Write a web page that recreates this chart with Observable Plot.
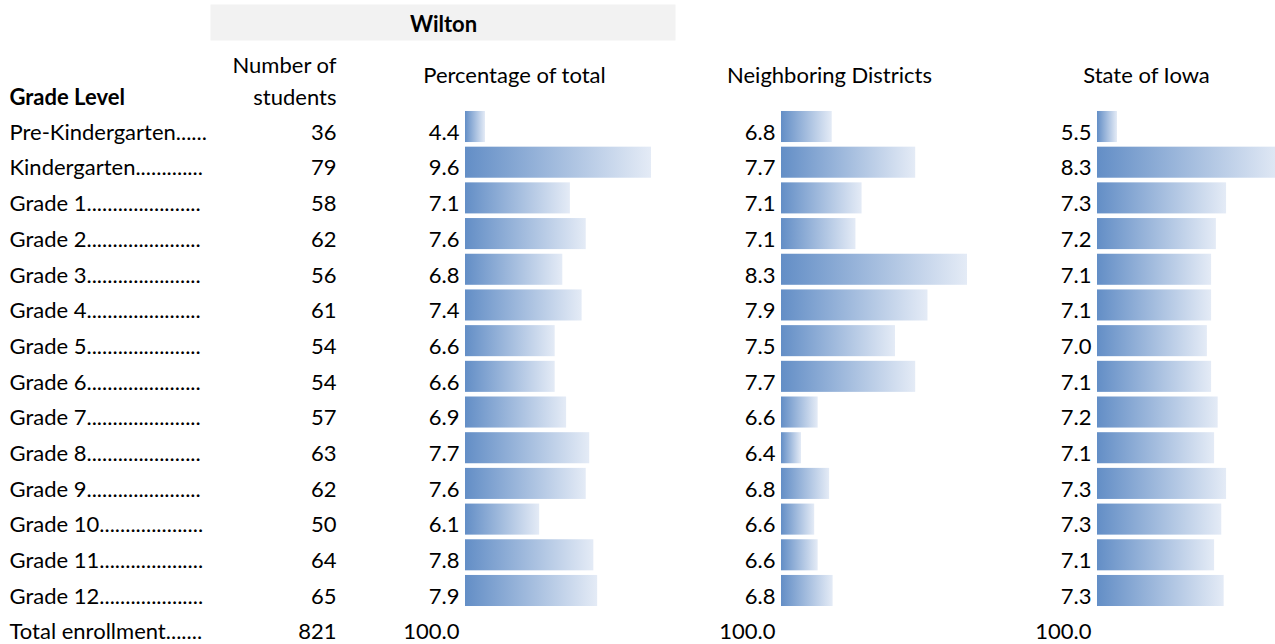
<!DOCTYPE html>
<html>
<head>
<meta charset="utf-8">
<script src="https://cdn.jsdelivr.net/npm/d3@7"></script>
<script src="https://cdn.jsdelivr.net/npm/@observablehq/plot@0.6"></script>
<style>
  body { margin: 0; background: #fff; }
  #wrap { position: relative; width: 1275px; height: 644px; overflow: hidden; background: #fff; }
  #wrap svg { position: absolute; left: 0; top: 0; }
</style>
</head>
<body>
<div id="wrap"></div>
<script>
// ---- data ----
const grades = [
  "Pre-Kindergarten......",
  "Kindergarten.............",
  "Grade 1......................",
  "Grade 2......................",
  "Grade 3......................",
  "Grade 4......................",
  "Grade 5......................",
  "Grade 6......................",
  "Grade 7......................",
  "Grade 8......................",
  "Grade 9......................",
  "Grade 10....................",
  "Grade 11....................",
  "Grade 12...................."
];
const students = [36, 79, 58, 62, 56, 61, 54, 54, 57, 63, 62, 50, 64, 65];
const wiltonPct = [4.38, 9.62, 7.06, 7.56, 6.82, 7.43, 6.58, 6.58, 6.94, 7.67, 7.56, 6.09, 7.80, 7.92];
const neighborPct = [6.79, 7.74, 7.13, 7.06, 8.33, 7.88, 7.51, 7.74, 6.63, 6.44, 6.76, 6.59, 6.63, 6.80];
const statePct = [5.52, 8.29, 7.34, 7.17, 7.09, 7.09, 7.02, 7.09, 7.20, 7.14, 7.34, 7.26, 7.14, 7.30];
const totalLabel = "Total enrollment.......";
const totalStudents = 821;
const totalPct = [100.0, 100.0, 100.0];

const groupTitle = "Wilton";
const headers = {
  level: "Grade Level",
  count: ["Number of", "students"],
  wilton: "Percentage of total",
  neighbor: "Neighboring Districts",
  state: "State of Iowa"
};

// ---- build table ----
const rows = grades.map((g, i) => ({
  grade: g,
  students: students[i],
  wilton: wiltonPct[i],
  neighbor: neighborPct[i],
  state: statePct[i]
}));
const yDomain = [...grades, totalLabel];

const FONT = "Lato, 'Open Sans', sans-serif";
const FS = 22;
const BAND = 186;      // full data-bar length
const MINBAR = 20;     // shortest data-bar length
const BASE = 12.8;     // baseline offset from row centre

const yScale = {type: "band", domain: yDomain, range: [106.34, 646.34], padding: 0.13, round: false, axis: null};
const baseStyle = {fontFamily: FONT, fontSize: FS + "px", color: "#000", background: "transparent", overflow: "hidden"};

function gradientDefs(id) {
  return () => {
    const defs = d3.create("svg:defs");
    const g = defs.append("linearGradient").attr("id", id)
      .attr("x1", "0").attr("x2", "1").attr("y1", "0").attr("y2", "0");
    g.append("stop").attr("offset", "0%").attr("stop-color", "#638EC6");
    g.append("stop").attr("offset", "100%").attr("stop-color", "#E4EBF6");
    return defs.node();
  };
}

function barMarks(key, id, totalValue) {
  const vals = rows.map(d => d[key]);
  const mn = d3.min(vals), mx = d3.max(vals);
  const d0 = mn - (mx - mn) * MINBAR / (BAND - MINBAR);
  return {
    domain: [d0, mx],
    marks: [
      gradientDefs(id),
      Plot.barX(rows, {x1: d0, x2: key, y: "grade", fill: `url(#${id})`}),
      Plot.text(rows, {
        x: d0, y: "grade", text: d => d[key].toFixed(1),
        textAnchor: "end", lineAnchor: "bottom", dx: -6, dy: BASE, fill: "#000"
      }),
      Plot.text([totalValue], {
        x: d0, y: () => totalLabel, text: d => d.toFixed(1),
        textAnchor: "end", lineAnchor: "bottom", dx: -6, dy: BASE, fill: "#000"
      })
    ]
  };
}

function hdr(text, dx, dy, anchor, bold) {
  return Plot.text([text], {
    frameAnchor: "top-left", dx, dy, text: d => d,
    textAnchor: anchor, lineAnchor: "bottom", fill: "#000",
    fontWeight: bold ? "bold" : "normal"
  });
}

const wrap = document.getElementById("wrap");

// Base plot: labels, student counts, Wilton percentage bars, headers
const w = barMarks("wilton", "gradW", totalPct[0]);
wrap.append(Plot.plot({
  width: 1275, height: 644, margin: 0,
  style: baseStyle,
  x: {domain: w.domain, range: [465, 465 + BAND], axis: null},
  y: yScale,
  marks: [
    Plot.frame({fill: "#F2F2F2", stroke: null, insetLeft: 210, insetRight: 1275 - 675, insetTop: 4, insetBottom: 644 - 40}),
    hdr(groupTitle, 443, 31, "middle", true),
    hdr(headers.level, 9, 104, "start", true),
    hdr(headers.count[0], 336, 72, "end", false),
    hdr(headers.count[1], 336, 104, "end", false),
    hdr(headers.wilton, 514, 82, "middle", false),
    hdr(headers.neighbor, 829, 82, "middle", false),
    hdr(headers.state, 1146, 82, "middle", false),
    Plot.text(rows, {frameAnchor: "left", dx: 9, y: "grade", text: "grade", textAnchor: "start", lineAnchor: "bottom", dy: BASE, fill: "#000"}),
    Plot.text(rows, {frameAnchor: "left", dx: 336, y: "grade", text: d => String(d.students), textAnchor: "end", lineAnchor: "bottom", dy: BASE, fill: "#000"}),
    Plot.text([totalLabel], {frameAnchor: "left", dx: 9, y: d => d, text: d => d, textAnchor: "start", lineAnchor: "bottom", dy: BASE, fill: "#000"}),
    Plot.text([totalStudents], {frameAnchor: "left", dx: 336, y: () => totalLabel, text: d => String(d), textAnchor: "end", lineAnchor: "bottom", dy: BASE, fill: "#000"}),
    ...w.marks
  ]
}));

// Neighboring Districts
const n = barMarks("neighbor", "gradN", totalPct[1]);
wrap.append(Plot.plot({
  width: 1275, height: 644, margin: 0,
  style: baseStyle,
  x: {domain: n.domain, range: [781, 781 + BAND], axis: null},
  y: yScale,
  marks: n.marks
}));

// State of Iowa
const s = barMarks("state", "gradS", totalPct[2]);
wrap.append(Plot.plot({
  width: 1275, height: 644, margin: 0,
  style: baseStyle,
  x: {domain: s.domain, range: [1097, 1097 + BAND], axis: null},
  y: yScale,
  marks: s.marks
}));
</script>
</body>
</html>
